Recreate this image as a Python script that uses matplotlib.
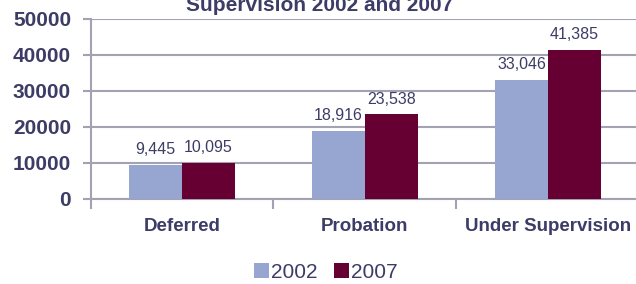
import numpy as np
import matplotlib.pyplot as plt

categories = ["Deferred", "Probation", "Under Supervision"]
years      = ["2002", "2007"]
vals_2002  = [9445, 18916, 33046]
vals_2007  = [10095, 23538, 41385]
y_ticks    = [0, 10000, 20000, 30000, 40000, 50000]

NAVY   = '#3c3c66'
C2002  = '#96a6d0'
C2007  = '#660033'
GRID   = '#a2a2b2'

plt.rcParams['font.family'] = ['Liberation Sans', 'DejaVu Sans']

fig = plt.figure(figsize=(6.36, 2.84), dpi=100, facecolor='white')
ax = fig.add_axes([0.1423, 0.2993, 0.863, 0.6338])

x = np.arange(len(categories))
w = 0.288
b1 = ax.bar(x - w / 2, vals_2002, w, color=C2002, label=years[0], zorder=3)
b2 = ax.bar(x + w / 2, vals_2007, w, color=C2007, label=years[1], zorder=3)

for bars, vals in [(b1, vals_2002), (b2, vals_2007)]:
    for r, v in zip(bars, vals):
        ax.annotate(f"{v:,}", (r.get_x() + r.get_width() / 2, v),
                    xytext=(0, 5.5), textcoords='offset points',
                    ha='center', va='bottom', fontsize=11.5, color=NAVY)

ax.set_xlim(-0.5, len(categories) - 0.5)
ax.set_ylim(0, 50000)
ax.set_yticks(y_ticks)
ax.set_yticklabels([str(t) for t in y_ticks], fontsize=15, fontweight='bold',
                   color=NAVY)
ax.yaxis.grid(True, color=GRID, linewidth=1.5, zorder=0)
ax.set_axisbelow(True)

ax.set_xticks(x)
ax.set_xticklabels(categories, fontsize=13.5, fontweight='bold', color=NAVY)
ax.tick_params(axis='x', length=0, pad=14)
ax.set_xticks(np.arange(len(categories)) - 0.5, minor=True)
ax.tick_params(axis='x', which='minor', length=7, width=1.5, color=GRID)
ax.tick_params(axis='y', length=6, width=1.5, color=GRID, pad=8)

for s in ['top', 'right']:
    ax.spines[s].set_visible(False)
for s in ['left', 'bottom']:
    ax.spines[s].set_color(GRID)
    ax.spines[s].set_linewidth(1.5)

# title is partly cut off at the top, as in the source image
fig.text(320 / 636, 1 - 11 / 284, "Supervision 2002 and 2007", ha='center',
         va='baseline', fontsize=15, fontweight='bold', color=NAVY)

leg = fig.legend(handles=[b1, b2], loc='center', bbox_to_anchor=(326 / 636, 1 - 272 / 284),
                 ncol=2, frameon=False, fontsize=15, handlelength=0.7,
                 handleheight=0.7, handletextpad=0.1, columnspacing=0.8)
for t in leg.get_texts():
    t.set_color(NAVY)

fig.savefig('out.png', dpi=100, facecolor='white')
